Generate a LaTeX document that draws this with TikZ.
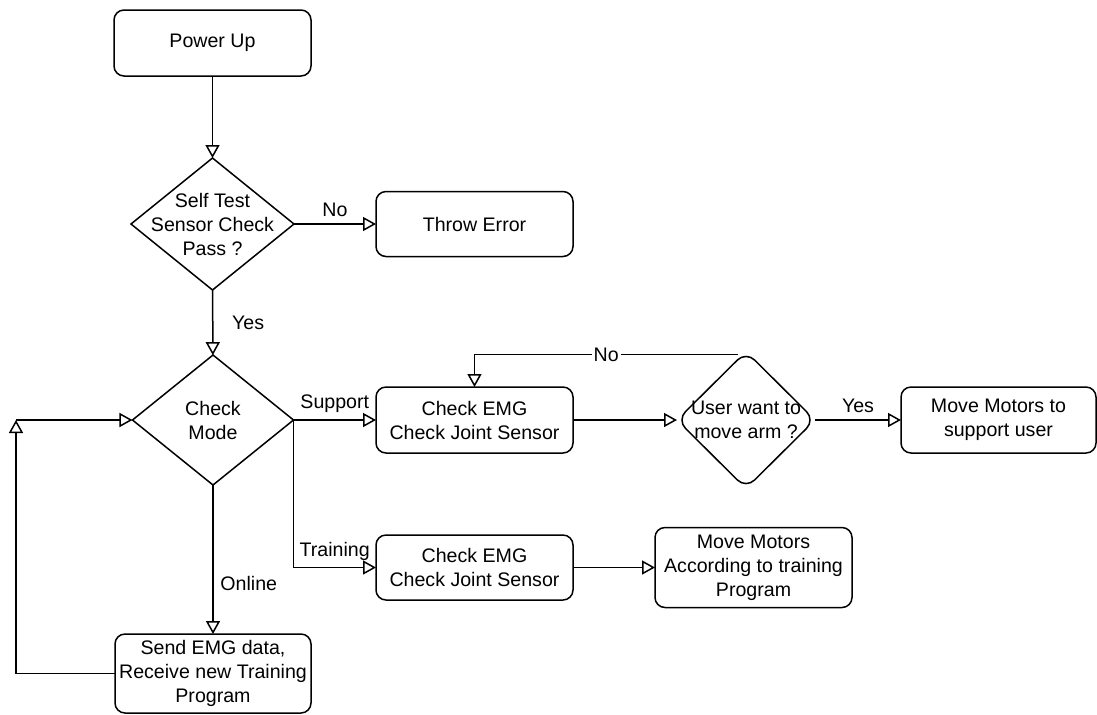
\documentclass[tikz,border=0pt]{standalone}
\usepackage{fontspec}
\setmainfont{Liberation Sans}
\usetikzlibrary{shapes.geometric,arrows.meta}
\begin{document}
\begin{tikzpicture}
[x=0.5pt,y=-0.5pt,%
  font=\fontsize{9.8}{12}\selectfont,%
  boxDecorate/.style={shape=rectangle,rounded corners=5pt,draw,line width=0.75pt,align=center,inner sep=0pt,outer sep=0pt},%
  decisionDecorate/.style={shape=diamond,draw,line width=0.75pt,inner sep=0pt,outer sep=0pt},%
  lineDecorate/.style={-{Triangle[open,length=6.5pt,width=7pt]},line width=0.75pt},%
  labelDecorate/.style={inner sep=1pt,fill=white}]
\useasboundingbox (0,0) rectangle (1097,714);
%% process boxes
\foreach \nodename/\x/\y/\w/\h/\txt in {
  pwr/212.5/43/197/66/{Power Up},
  err/474.5/224/197/65/{Throw Error},
  emgA/474.5/420/197/66/{Check EMG\\Check Joint Sensor},
  motA/998.5/420/195/66/{Move Motors to\\support user},
  emgB/474.5/567.5/197/65/{Check EMG\\Check Joint Sensor},
  motB/753.5/567.5/197/80/{Move Motors\\According to training\\Program},
  send/213/673.5/196/79/{Send EMG data,\\Receive new Training\\Program}}
{
  \node (\nodename) at (\x,\y) [boxDecorate,minimum width=\w*0.5pt,minimum height=\h*0.5pt] {\txt};
}
%% decisions
\foreach \nodename/\x/\y/\w/\h/\txt in {
  selftest/212.5/224/163/132/{Self Test\\Sensor Check\\Pass ?},
  mode/213/420/161/130/{Check\\Mode}}
{
  \node (\nodename) at (\x,\y) [decisionDecorate,minimum width=\w*0.5pt,minimum height=\h*0.5pt,
    label={[align=center]center:\txt}] {};
}
\node (usr) at (746,420) [decisionDecorate,rounded corners=6pt,minimum width=69pt,minimum height=68.5pt,
  label={[align=center]center:User want to\\move arm ?}] {};
\coordinate (loop) at (16,420);
%% plain connectors
\path
\foreach \startnode/\endnode in {
  pwr/selftest, emgA/usr, emgB/motB, loop/mode}
{
  (\startnode) edge[lineDecorate] (\endnode)
};
%% labelled connectors
\path
\foreach \startnode/\endnode/\pos/\side/\dx/\lbl in {
  selftest/err/0.5/above/0/No, mode/emgA/0.5/above/0/Support,
  usr/motA/0.5/above/0/Yes, selftest/mode/0.5/right/6/Yes,
  mode/send/0.66/right/0/Online}
{
  (\startnode) edge[lineDecorate] node[pos=\pos,\side,xshift=\dx pt] {\lbl} (\endnode)
};
%% bent connectors
\draw[lineDecorate] ([xshift=-4pt,yshift=-1.5pt]usr.north) -| node[pos=0.25,labelDecorate] {No} (emgA.north);
\draw[lineDecorate] (mode.east) |- node[pos=0.75,above] {Training} (emgB.west);
\draw[lineDecorate] (send.west) -| (loop);
\end{tikzpicture}
\end{document}
